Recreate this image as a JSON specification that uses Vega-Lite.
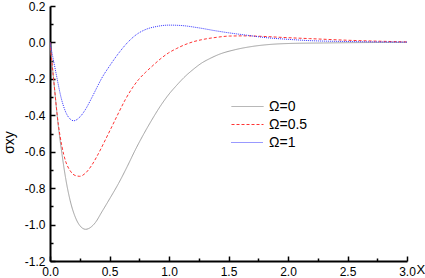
{
  "$schema": "https://vega.github.io/schema/vega-lite/v6.json",
  "width": 357,
  "height": 255,
  "autosize": {"type": "none"},
  "padding": {"left": 50, "top": 6, "right": 18, "bottom": 17},
  "background": "white",
  "config": {"view": {"stroke": null}},
  "data": {"values": [
    {"x": 0, "y": 0, "s": "Ω=0"},
    {"x": 0.03, "y": -0.2, "s": "Ω=0"},
    {"x": 0.07, "y": -0.46, "s": "Ω=0"},
    {"x": 0.1, "y": -0.61, "s": "Ω=0"},
    {"x": 0.13, "y": -0.74, "s": "Ω=0"},
    {"x": 0.17, "y": -0.87, "s": "Ω=0"},
    {"x": 0.21, "y": -0.955, "s": "Ω=0"},
    {"x": 0.25, "y": -1.005, "s": "Ω=0"},
    {"x": 0.3, "y": -1.026, "s": "Ω=0"},
    {"x": 0.324, "y": -1.022, "s": "Ω=0"},
    {"x": 0.38, "y": -0.99, "s": "Ω=0"},
    {"x": 0.436, "y": -0.93, "s": "Ω=0"},
    {"x": 0.5, "y": -0.86, "s": "Ω=0"},
    {"x": 0.576, "y": -0.774, "s": "Ω=0"},
    {"x": 0.65, "y": -0.68, "s": "Ω=0"},
    {"x": 0.716, "y": -0.591, "s": "Ω=0"},
    {"x": 0.79, "y": -0.5, "s": "Ω=0"},
    {"x": 0.856, "y": -0.425, "s": "Ω=0"},
    {"x": 0.925, "y": -0.352, "s": "Ω=0"},
    {"x": 0.995, "y": -0.288, "s": "Ω=0"},
    {"x": 1.065, "y": -0.235, "s": "Ω=0"},
    {"x": 1.135, "y": -0.187, "s": "Ω=0"},
    {"x": 1.2, "y": -0.15, "s": "Ω=0"},
    {"x": 1.275, "y": -0.113, "s": "Ω=0"},
    {"x": 1.345, "y": -0.088, "s": "Ω=0"},
    {"x": 1.415, "y": -0.067, "s": "Ω=0"},
    {"x": 1.555, "y": -0.04, "s": "Ω=0"},
    {"x": 1.7, "y": -0.022, "s": "Ω=0"},
    {"x": 1.85, "y": -0.011, "s": "Ω=0"},
    {"x": 2.0, "y": -0.006, "s": "Ω=0"},
    {"x": 2.3, "y": -0.003, "s": "Ω=0"},
    {"x": 2.6, "y": -0.001, "s": "Ω=0"},
    {"x": 3.0, "y": 0, "s": "Ω=0"},
    {"x": 0, "y": 0, "s": "Ω=0.5"},
    {"x": 0.03, "y": -0.2, "s": "Ω=0.5"},
    {"x": 0.07, "y": -0.45, "s": "Ω=0.5"},
    {"x": 0.1, "y": -0.57, "s": "Ω=0.5"},
    {"x": 0.13, "y": -0.65, "s": "Ω=0.5"},
    {"x": 0.17, "y": -0.705, "s": "Ω=0.5"},
    {"x": 0.21, "y": -0.73, "s": "Ω=0.5"},
    {"x": 0.25, "y": -0.735, "s": "Ω=0.5"},
    {"x": 0.296, "y": -0.719, "s": "Ω=0.5"},
    {"x": 0.35, "y": -0.675, "s": "Ω=0.5"},
    {"x": 0.408, "y": -0.609, "s": "Ω=0.5"},
    {"x": 0.465, "y": -0.535, "s": "Ω=0.5"},
    {"x": 0.52, "y": -0.462, "s": "Ω=0.5"},
    {"x": 0.576, "y": -0.387, "s": "Ω=0.5"},
    {"x": 0.632, "y": -0.315, "s": "Ω=0.5"},
    {"x": 0.69, "y": -0.252, "s": "Ω=0.5"},
    {"x": 0.743, "y": -0.205, "s": "Ω=0.5"},
    {"x": 0.8, "y": -0.166, "s": "Ω=0.5"},
    {"x": 0.856, "y": -0.132, "s": "Ω=0.5"},
    {"x": 0.925, "y": -0.092, "s": "Ω=0.5"},
    {"x": 0.995, "y": -0.058, "s": "Ω=0.5"},
    {"x": 1.065, "y": -0.033, "s": "Ω=0.5"},
    {"x": 1.135, "y": -0.012, "s": "Ω=0.5"},
    {"x": 1.2, "y": 0.003, "s": "Ω=0.5"},
    {"x": 1.275, "y": 0.015, "s": "Ω=0.5"},
    {"x": 1.4, "y": 0.028, "s": "Ω=0.5"},
    {"x": 1.51, "y": 0.035, "s": "Ω=0.5"},
    {"x": 1.65, "y": 0.036, "s": "Ω=0.5"},
    {"x": 1.79, "y": 0.033, "s": "Ω=0.5"},
    {"x": 2.0, "y": 0.026, "s": "Ω=0.5"},
    {"x": 2.18, "y": 0.021, "s": "Ω=0.5"},
    {"x": 2.5, "y": 0.012, "s": "Ω=0.5"},
    {"x": 3.0, "y": 0.003, "s": "Ω=0.5"},
    {"x": 0, "y": 0, "s": "Ω=1"},
    {"x": 0.045, "y": -0.15, "s": "Ω=1"},
    {"x": 0.1, "y": -0.32, "s": "Ω=1"},
    {"x": 0.15, "y": -0.405, "s": "Ω=1"},
    {"x": 0.2, "y": -0.43, "s": "Ω=1"},
    {"x": 0.25, "y": -0.41, "s": "Ω=1"},
    {"x": 0.296, "y": -0.37, "s": "Ω=1"},
    {"x": 0.35, "y": -0.305, "s": "Ω=1"},
    {"x": 0.4, "y": -0.24, "s": "Ω=1"},
    {"x": 0.436, "y": -0.195, "s": "Ω=1"},
    {"x": 0.5, "y": -0.13, "s": "Ω=1"},
    {"x": 0.576, "y": -0.06, "s": "Ω=1"},
    {"x": 0.66, "y": 0.005, "s": "Ω=1"},
    {"x": 0.73, "y": 0.045, "s": "Ω=1"},
    {"x": 0.8, "y": 0.07, "s": "Ω=1"},
    {"x": 0.9, "y": 0.088, "s": "Ω=1"},
    {"x": 1.0, "y": 0.095, "s": "Ω=1"},
    {"x": 1.1, "y": 0.093, "s": "Ω=1"},
    {"x": 1.25, "y": 0.08, "s": "Ω=1"},
    {"x": 1.4, "y": 0.063, "s": "Ω=1"},
    {"x": 1.51, "y": 0.052, "s": "Ω=1"},
    {"x": 1.65, "y": 0.04, "s": "Ω=1"},
    {"x": 1.79, "y": 0.028, "s": "Ω=1"},
    {"x": 2.0, "y": 0.017, "s": "Ω=1"},
    {"x": 2.18, "y": 0.01, "s": "Ω=1"},
    {"x": 2.5, "y": 0.005, "s": "Ω=1"},
    {"x": 3.0, "y": 0.002, "s": "Ω=1"}
  ]},
  "mark": {"type": "line", "interpolate": "monotone", "strokeWidth": 1, "clip": true},
  "encoding": {
    "x": {
      "field": "x", "type": "quantitative",
      "scale": {"domain": [0, 3], "nice": false, "zero": false},
      "axis": {
        "title": "X",
        "values": [0, 0.25, 0.5, 0.75, 1, 1.25, 1.5, 1.75, 2, 2.25, 2.5, 2.75, 3],
        "labelExpr": "datum.value % 0.5 === 0 ? format(datum.value, '.1f') : ''",
        "labelOverlap": false,
        "labelFlush": false,
        "grid": false,
        "domainColor": "black", "domainWidth": 2,
        "tickColor": "black", "tickWidth": 1.5,
        "tickSize": {"condition": {"test": "datum.value % 0.5 === 0", "value": -5}, "value": -3},
        "labelFont": "Liberation Sans", "labelFontSize": 12, "labelColor": "black",
        "labelPadding": 10,
        "titleFont": "Liberation Sans", "titleFontSize": 13, "titleFontWeight": "normal", "titleColor": "black",
        "titleX": 366, "titleY": 8, "titleAlign": "left", "titleBaseline": "middle", "titleAnchor": null
      }
    },
    "y": {
      "field": "y", "type": "quantitative",
      "scale": {"domain": [-1.2, 0.2], "nice": false, "zero": false},
      "axis": {
        "title": "σxy",
        "values": [-1.2, -1.1, -1.0, -0.9, -0.8, -0.7, -0.6, -0.5, -0.4, -0.3, -0.2, -0.1, 0, 0.1, 0.2],
        "labelExpr": "abs(round(datum.value * 10)) % 2 === 0 ? replace(format(datum.value, '.1f'), '−', '-') : ''",
        "labelOverlap": false,
        "labelFlush": false,
        "grid": false,
        "domainColor": "black", "domainWidth": 2,
        "tickColor": "black", "tickWidth": 1.5,
        "tickSize": {"condition": {"test": "abs(round(datum.value * 10)) % 2 === 0", "value": -5}, "value": -3},
        "labelFont": "Liberation Sans", "labelFontSize": 12, "labelColor": "black",
        "labelPadding": 10,
        "titleFont": "Liberation Sans", "titleFontSize": 14, "titleFontWeight": "normal", "titleColor": "black",
        "titleX": -41, "titleY": 136, "titleAngle": -90, "titleAlign": "center", "titleBaseline": "middle"
      }
    },
    "color": {
      "field": "s", "type": "nominal",
      "scale": {"domain": ["Ω=0", "Ω=0.5", "Ω=1"], "range": ["#a0a0a0", "#ff3333", "#3333ff"]},
      "legend": {
        "title": null, "orient": "none", "legendX": 187, "legendY": 90,
        "symbolType": "M-1.6,0H1.6", "symbolSize": 400, "symbolStrokeWidth": 1,
        "labelFont": "Liberation Sans", "labelFontSize": 14, "labelColor": "black",
        "labelOffset": 11, "rowPadding": 0, "padding": 0
      }
    },
    "strokeDash": {
      "field": "s", "type": "nominal",
      "scale": {"domain": ["Ω=0", "Ω=0.5", "Ω=1"], "range": [[1, 0], [3, 2], [1, 1]]},
      "legend": {
        "title": null, "orient": "none", "legendX": 187, "legendY": 90,
        "symbolType": "M-1.6,0H1.6", "symbolSize": 400, "symbolStrokeWidth": 1,
        "labelFont": "Liberation Sans", "labelFontSize": 14, "labelColor": "black",
        "labelOffset": 11, "rowPadding": 0, "padding": 0
      }
    }
  }
}
